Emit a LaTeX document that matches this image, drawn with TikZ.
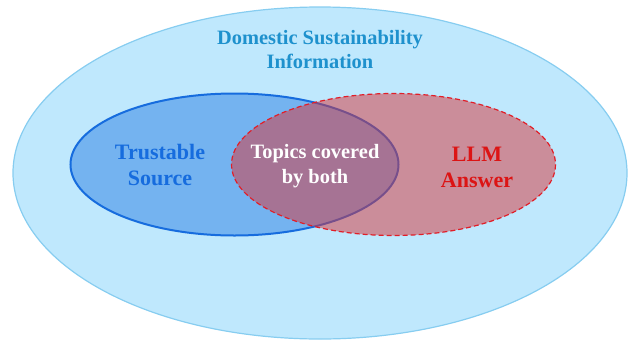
\documentclass[tikz,border=0pt]{standalone}
\usepackage{fontspec}
\setmainfont{Liberation Serif}

\definecolor{skyfill}{RGB}{191,232,253}
\definecolor{skyline}{RGB}{135,205,240}
\definecolor{trustfill}{RGB}{116,179,240}
\definecolor{trustline}{RGB}{22,108,222}
\definecolor{llmfill}{RGB}{216,52,57}
\definecolor{llmline}{RGB}{225,30,40}
\definecolor{titleblue}{RGB}{30,145,205}
\definecolor{llmred}{RGB}{220,20,20}

\tikzset{
  label text/.style={font=\bfseries\fontsize{22}{26}\selectfont, align=center},
}

\begin{document}
\begin{tikzpicture}[x=1pt,y=-1pt]
  \useasboundingbox (0,0) rectangle (628,343);

  % Outer set
  \draw[skyline, fill=skyfill, line width=1.2pt] (320,173) ellipse [x radius=307, y radius=166];

  % Trustable source
  \draw[trustline, fill=trustfill, line width=2pt] (234.5,164.5) ellipse [x radius=164, y radius=71];

  % LLM answer, see-through so the overlap shows
  \fill[llmfill, fill opacity=0.5] (393.5,164.5) ellipse [x radius=162, y radius=71];
  \draw[llmline, dashed, dash pattern=on 5pt off 3pt, line width=1.2pt] (393.5,164.5) ellipse [x radius=162, y radius=71];

  % Labels
  \node[label text, font=\bfseries\fontsize{20.4}{24}\selectfont, titleblue] (domain) at (320,49.5) {Domestic Sustainability\\Information};
  \node[label text, trustline] (trust) at (160,165) {Trustable\\Source};
  \node[label text, font=\bfseries\fontsize{20.4}{25}\selectfont, white] (both) at (315,166.5) {Topics covered\\by both};
  \node[label text, llmred] (llm) at (477,167) {LLM\\Answer};
\end{tikzpicture}
\end{document}
